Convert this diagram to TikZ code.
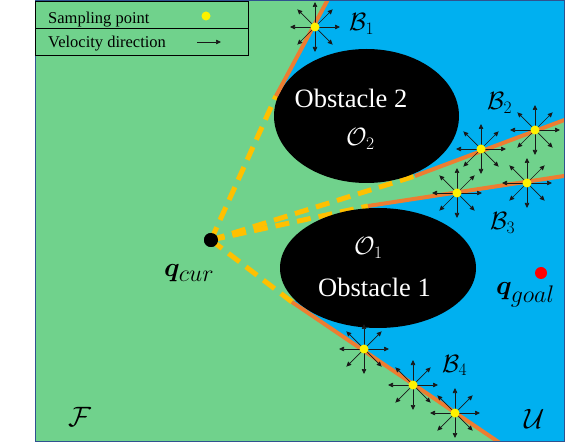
\RequirePackage{fix-cm}
\documentclass[tikz,border=0pt]{standalone}
\usepackage{amsmath,bm}
\usepackage[no-math]{fontspec}
\setmainfont{Liberation Serif}
\usetikzlibrary{arrows.meta,shapes.geometric}
\definecolor{fgreen}{RGB}{112,210,140}
\definecolor{ublue}{RGB}{0,176,240}
\definecolor{bor}{RGB}{237,125,49}
\definecolor{dyel}{RGB}{255,192,0}
\definecolor{frameblue}{RGB}{47,82,143}
\definecolor{arrowdark}{RGB}{25,25,25}
\tikzset{
  vel/.style={-{Triangle[length=5pt,width=4.5pt]}, line width=0.7pt, arrowdark},
  samp/.style={circle, fill=yellow, inner sep=0pt, minimum size=9pt},
  bound/.style={line width=4pt, draw=bor},
  guide/.style={line width=5pt, draw=dyel, dash pattern=on 14pt off 8pt},
  obstacle/.style={ellipse, fill=black, inner sep=0pt},
  obstxt/.style={text=white, inner sep=0pt, anchor=base, font=\fontsize{26.5}{30}\selectfont},
  mathlbl/.style={inner sep=0pt, anchor=base west, font=\fontsize{25}{28}\selectfont},
  biglbl/.style={inner sep=0pt, anchor=base west, font=\fontsize{28}{30}\selectfont},
  legtxt/.style={inner sep=0pt, anchor=base west, font=\fontsize{16.5}{19}\selectfont},
  velstar/.pic={\foreach \a in {0,45,...,315}{\draw[vel] (0,0) -- (\a:25pt);}}
}
\begin{document}
\begin{tikzpicture}[x=1pt,y=-1pt]
\useasboundingbox (0,0) rectangle (586,443);
% key points
\coordinate (t1) at (276,96);  \coordinate (e1) at (333,-10);
\coordinate (t2) at (415,176); \coordinate (e2) at (575,116);
\coordinate (t3) at (368,206); \coordinate (e3) at (575,174.3);
\coordinate (t4) at (292,302); \coordinate (e4) at (513.2,452);
\begin{scope}
\clip (35,1) rectangle (564,441);
\fill[fgreen] (35,1) rectangle (564,441);
\fill[ublue] (t1) -- (e1) -- (580,-10) -- (e2) -- (t2) -- (366.5,116) -- cycle;
\fill[ublue] (t3) -- (e3) -- (580,460) -- (e4) -- (t4) -- (378,268) -- cycle;
\node[circle, fill=black, inner sep=0pt, minimum size=14pt] (qcur) at (211,240) {};
\draw[guide] (qcur.center) -- (t1);
\draw[guide] (qcur.center) -- (t2);
\draw[guide] (qcur.center) -- (t3);
\draw[guide] (qcur.center) -- (t4);
\node[circle, fill=black, inner sep=0pt, minimum size=14pt] at (qcur) {};
\node[obstacle, minimum width=185pt, minimum height=134pt] (obs2) at (366.5,116) {};
\node[obstacle, minimum width=196pt, minimum height=120pt] (obs1) at (378,268) {};
\draw[bound] (t1) -- (e1);
\draw[bound] (t2) -- (e2);
\draw[bound] (t3) -- (e3);
\draw[bound] (t4) -- (e4);
\end{scope}
% obstacle texts
\node[obstxt] (o2txt) at (351,108) {Obstacle 2};
\node[inner sep=0pt, anchor=base west, text=white, font=\fontsize{25}{28}\selectfont] (o2lbl) at (346,146) {$\mathcal{O}_2$};
\node[obstxt] (o1txt) at (374.5,297) {Obstacle 1};
\node[inner sep=0pt, anchor=base west, text=white, font=\fontsize{25}{28}\selectfont] (o1lbl) at (354,255) {$\mathcal{O}_1$};
% sampling points with velocity stars
\foreach \p in {(315,27), (481,149), (535,130), (457,193),
                (527,183), (364,349), (413,385), (455,413)}{
  \pic at \p {velstar};
}
\node[samp] (s1) at (315,27) {};
\node[samp] (s2) at (481,149) {};
\node[samp] (s3) at (535,130) {};
\node[samp] (s4) at (457,193) {};
\node[samp] (s5) at (527,183) {};
\node[samp] (s6) at (364,349) {};
\node[samp] (s7) at (413,385) {};
\node[samp] (s8) at (455,413) {};
% goal
\node[circle, fill=red, inner sep=0pt, minimum size=12pt] (qgoal) at (541,273) {};
% labels
\node[mathlbl] (lb1) at (349,31) {$\mathcal{B}_1$};
\node[mathlbl] (lb2) at (487,110) {$\mathcal{B}_2$};
\node[mathlbl] (lb3) at (490,230) {$\mathcal{B}_3$};
\node[mathlbl] (lb4) at (442,372) {$\mathcal{B}_4$};
\node[biglbl] (lu) at (524,428) {$\mathcal{U}$};
\node[biglbl] (lf) at (68,426) {$\mathcal{F}$};
\node[inner sep=0pt, anchor=base west] (lqcur) at (164,277)
  {\fontsize{27}{30}\selectfont$\bm{q}_{\hbox{\fontsize{24}{26}\selectfont$cur$}}$};
\node[inner sep=0pt, anchor=base west] (lqgoal) at (496,295)
  {\fontsize{27}{30}\selectfont$\bm{q}_{\hbox{\fontsize{24}{26}\selectfont$goal$}}$};
% frame
\draw[frameblue, line width=1pt] (35,1) rectangle (564,441);
% legend
\draw[black, line width=0.8pt, fill=fgreen] (35,1) rectangle (248,55);
\draw[black, line width=0.8pt] (35,28) -- (248,28);
\node[legtxt] (lg1) at (48,24) {Sampling point};
\node[legtxt] (lg2) at (48,48) {Velocity direction};
\node[samp] (lgdot) at (206,16) {};
\coordinate (lga) at (197,42);
\coordinate (lgb) at (221,42);
\draw[vel] (lga) -- (lgb);
\end{tikzpicture}
\end{document}
